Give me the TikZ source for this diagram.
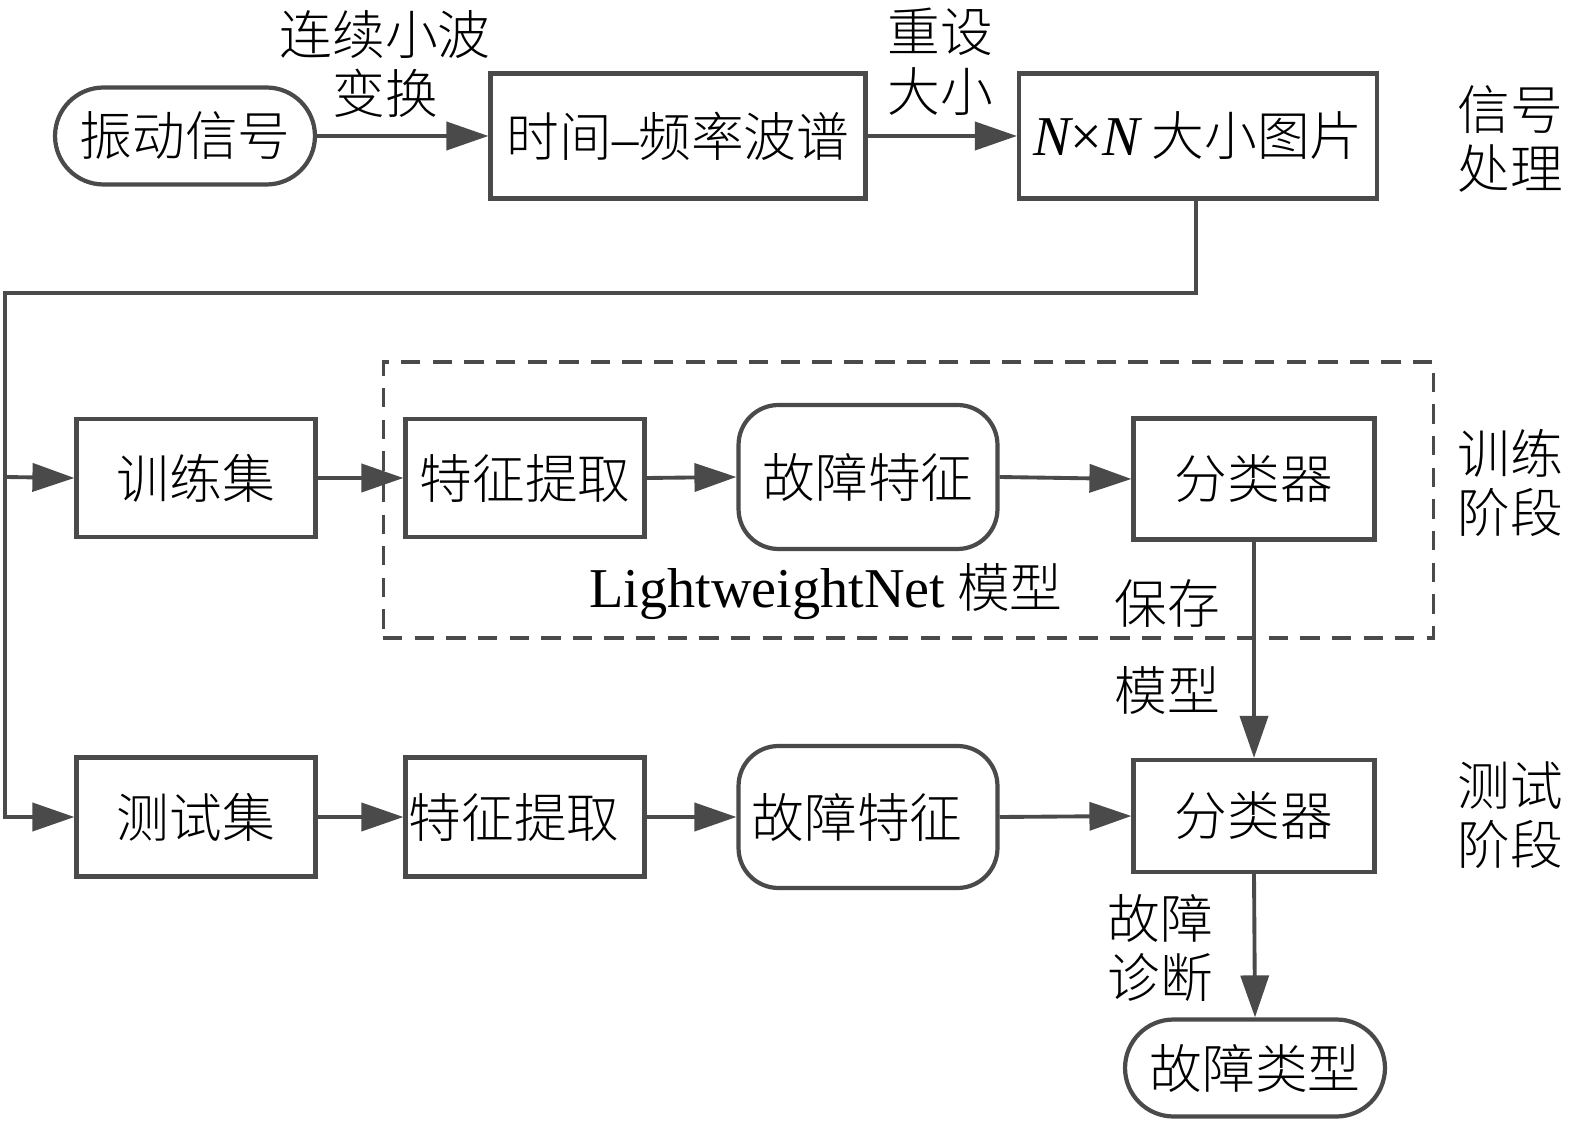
\documentclass[tikz,border=0pt]{standalone}
\usepackage{fontspec}
\setmainfont{Liberation Serif}
\newfontfamily\cjk{Noto Sans CJK SC Light}
\newfontfamily\lat{Liberation Serif}
\usetikzlibrary{arrows.meta}
\definecolor{ln}{HTML}{4A4A4A}
\begin{document}
\begin{tikzpicture}[x=0.02cm,y=-0.02cm,
  every node/.style={font=\cjk\fontsize{30}{34}\selectfont, text=black, inner sep=0pt, align=center},
  boxnode/.style={draw=ln, line width=2.4pt, rectangle},
  pill/.style={draw=ln, line width=2.4pt, rounded corners=0.97cm, minimum width=5.2cm, minimum height=1.94cm},
  roundbox/.style={draw=ln, line width=2.4pt, rounded corners=0.8cm, minimum width=5.18cm},
  conn/.style={draw=ln, line width=2.2pt},
  arr/.style={conn, -{Triangle[length=0.84cm,width=0.56cm]}},
  dashbox/.style={draw=ln, line width=1.8pt, dash pattern=on 11pt off 7pt},
]
\useasboundingbox (0,0) rectangle (1575,1124);
% row 1
\node[pill] (vib) at (185,136) {振动信号};
\node[boxnode, minimum width=7.5cm, minimum height=2.5cm] (tf) at (678,136) {时间{\lat –}频率波谱};
\node[boxnode, minimum width=7.16cm, minimum height=2.5cm] (nn) at (1198,136) {{\lat\fontsize{32}{34}\selectfont\itshape N}{\lat\fontsize{32}{34}\selectfont ×}{\lat\fontsize{32}{34}\selectfont\itshape N} 大小图片};
\node (lbA) at (385,64) {连续小波\\变换};
\node (lbB) at (940,62) {重设\\大小};
\node (sig) at (1510,139) {信号\\处理};
% dashed model box
\node[dashbox, minimum width=21.02cm, minimum height=5.52cm] (model) at (908.5,500) {};
% row 2
\node[boxnode, minimum width=4.78cm, minimum height=2.36cm] (trainset) at (196,478) {训练集};
\node[boxnode, minimum width=4.78cm, minimum height=2.36cm] (featA) at (525,478) {特征提取};
\node[roundbox, minimum height=2.88cm] (faultA) at (868,477) {故障特征};
\node[boxnode, minimum width=4.82cm, minimum height=2.42cm] (clsA) at (1254,479) {分类器};
\node (lwn) at (826,592) {{\lat\fontsize{32}{34}\selectfont LightweightNet} 模型};
\node (save) at (1167,603) {保存};
\node (mdl) at (1167,690) {模型};
\node (train) at (1510,483) {训练\\阶段};
% row 3
\node[boxnode, minimum width=4.78cm, minimum height=2.38cm] (testset) at (196,817) {测试集};
\node[boxnode, minimum width=4.78cm, minimum height=2.38cm] (featB) at (525,817) {特征提取\hspace{0.44cm}};
\node[roundbox, minimum height=2.84cm] (faultB) at (868,817) {故障特征\hspace{0.44cm}};
\node[boxnode, minimum width=4.82cm, minimum height=2.24cm] (clsB) at (1254,816) {分类器};
\node (test) at (1510,815) {测试\\阶段};
\node (diag) at (1160,948) {故障\\诊断};
\node[pill] (ftype) at (1255,1068) {故障类型};
% connectors
\coordinate (bendR) at (1196,293);
\coordinate (bendL) at (5,293);
\coordinate (junT) at (5,477);
\coordinate (junB) at (5,817);
\draw[arr] (vib.east) -- (tf.west);
\draw[arr] (tf.east) -- (nn.west);
\draw[arr] (nn.south -| bendR) -- (bendR) -- (bendL) -- (junB) -- (testset.west);
\draw[arr] (junT) -- (trainset.west);
\draw[arr] (trainset.east) -- (featA.west);
\draw[arr] (featA.east) -- (faultA.west);
\draw[arr] (faultA.east) -- (clsA.west);
\draw[arr] (testset.east) -- (featB.west);
\draw[arr] (featB.east) -- (faultB.west);
\draw[arr] (faultB.east) -- (clsB.west);
\draw[arr] (clsA.south) -- (clsB.north);
\draw[arr] (clsB.south) -- (ftype.north);
\end{tikzpicture}
\end{document}
